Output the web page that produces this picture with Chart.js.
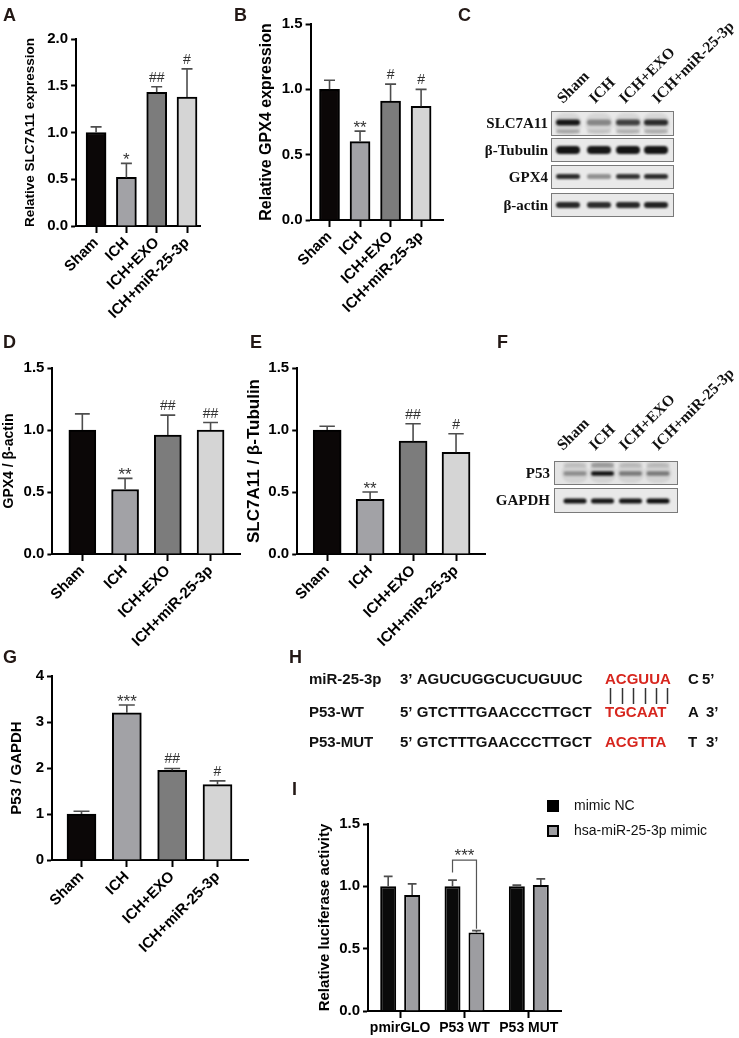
<!DOCTYPE html>
<html lang="en">
<head>
<meta charset="UTF-8">
<title>miR-25-3p / SLC7A11 / GPX4 / P53</title>
<script src="https://cdn.jsdelivr.net/npm/chart.js"></script>
<style>
  html, body { margin: 0; padding: 0; background: #fff; }
  #fig { position: relative; width: 739px; height: 1038px; overflow: hidden; font-family: "Liberation Sans", Arial, sans-serif; }
  #fig canvas { position: absolute; }
  .tag { position: absolute; font-weight: bold; font-size: 18px; line-height: 18px; color: #231815; }
</style>
</head>
<body>
<div id="fig">
  <canvas id="sketch" width="739" height="1038" style="left:0;top:0"></canvas>
  <canvas id="chartA"></canvas>
  <canvas id="chartB"></canvas>
  <canvas id="chartD"></canvas>
  <canvas id="chartE"></canvas>
  <canvas id="chartG"></canvas>
  <canvas id="chartI"></canvas>
  <div class="tag" style="left:3px;top:6px">A</div>
  <div class="tag" style="left:234px;top:6px">B</div>
  <div class="tag" style="left:458px;top:6px">C</div>
  <div class="tag" style="left:3px;top:333px">D</div>
  <div class="tag" style="left:250px;top:333px">E</div>
  <div class="tag" style="left:497px;top:333px">F</div>
  <div class="tag" style="left:3px;top:648px">G</div>
  <div class="tag" style="left:289px;top:648px">H</div>
  <div class="tag" style="left:292px;top:780px">I</div>
</div>
<script>
// ---- data ----
const groups = ['Sham', 'ICH', 'ICH+EXO', 'ICH+miR-25-3p'];

const slcMrna = [1.00, 0.52, 1.43, 1.38];
const slcMrnaErr = [0.06, 0.15, 0.06, 0.30];
const slcMrnaSig = ['', '*', '##', '#'];

const gpxMrna = [1.00, 0.60, 0.91, 0.87];
const gpxMrnaErr = [0.07, 0.08, 0.13, 0.13];
const gpxMrnaSig = ['', '**', '#', '#'];

const gpxProt = [1.00, 0.52, 0.96, 1.00];
const gpxProtErr = [0.13, 0.09, 0.16, 0.06];
const gpxProtSig = ['', '**', '##', '##'];

const slcProt = [1.00, 0.44, 0.91, 0.82];
const slcProtErr = [0.03, 0.06, 0.14, 0.15];
const slcProtSig = ['', '**', '##', '#'];

const p53Prot = [1.00, 3.20, 1.95, 1.64];
const p53ProtErr = [0.06, 0.17, 0.04, 0.08];
const p53ProtSig = ['', '***', '##', '#'];

const lucGroups = ['pmirGLO', 'P53 WT', 'P53 MUT'];
const lucSeries = ['mimic NC', 'hsa-miR-25-3p mimic'];
const lucNC = [1.00, 1.00, 1.00];
const lucNCErr = [0.08, 0.05, 0.01];
const lucMimic = [0.93, 0.63, 1.01];
const lucMimicErr = [0.09, 0.015, 0.05];

// blot band darkness per lane
const slc7a11Band = [0.95, 0.4, 0.75, 0.85];
const tubulinBand = [0.97, 0.95, 0.97, 0.97];
const gpx4Band = [0.85, 0.4, 0.82, 0.85];
const actinBand = [0.88, 0.85, 0.88, 0.9];
const p53Band = [0.35, 0.97, 0.45, 0.45];
const gapdhBand = [0.95, 0.95, 0.95, 0.98];

// luciferase sequences
const seqNames = ['miR-25-3p', 'P53-WT', 'P53-MUT'];
const seqLeft = ['3\u2019 AGUCUGGCUCUGUUC', '5\u2019 GTCTTTGAACCCTTGCT', '5\u2019 GTCTTTGAACCCTTGCT'];
const seqSite = ['ACGUUA', 'TGCAAT', 'ACGTTA'];
const seqEndBase = ['C', 'A', 'T'];
const seqEndTag = ['5\u2019', '3\u2019', '3\u2019'];

// ---- styles ----
const FONT = '"Liberation Sans", Arial, sans-serif';
const SERIF = '"Liberation Serif", "Times New Roman", serif';
const barFills = ['#0b0707', '#a2a2a6', '#7c7c7c', '#d5d5d5'];
Chart.defaults.font.family = FONT;
Chart.defaults.color = '#000';

const errorBars = {
  id: 'errorBars',
  afterDatasetsDraw(chart) {
    const { ctx } = chart;
    const y = chart.scales.y;
    chart.data.datasets.forEach((ds, di) => {
      if (!ds.errors) return;
      const meta = chart.getDatasetMeta(di);
      meta.data.forEach((bar, i) => {
        const raw = ds.data[i];
        const v = typeof raw === 'object' ? raw.y : raw;
        const top = y.getPixelForValue(v + ds.errors[i]);
        const cw = bar.width * 0.55;
        ctx.save();
        ctx.strokeStyle = '#4d4d4d';
        ctx.lineWidth = 1.6;
        ctx.beginPath();
        ctx.moveTo(bar.x, bar.y);
        ctx.lineTo(bar.x, top);
        ctx.moveTo(bar.x - cw / 2, top);
        ctx.lineTo(bar.x + cw / 2, top);
        ctx.stroke();
        const s = ds.sig ? ds.sig[i] : '';
        if (s) {
          ctx.fillStyle = '#333';
          ctx.textAlign = 'center';
          ctx.textBaseline = 'alphabetic';
          if (s[0] === '*') {
            ctx.font = '17px ' + FONT;
            ctx.fillText(s, bar.x, top + 2);
          } else {
            ctx.font = '14px ' + FONT;
            ctx.fillText(s, bar.x, top - 5);
          }
        }
        ctx.restore();
      });
    });
  }
};

function axisStyle() {
  return { color: '#000', width: 2 };
}

// geometry: titleX = y-title centre, left/right/top/bottom = plot area, c0/c3 = first/last bar centre
function groupChart(id, geo, values, errors, sig, yTitle, yMax, yStep, digits) {
  const canvas = document.getElementById(id);
  const padTop = 14;
  const cl = Math.max(0, geo.titleX - geo.ts * 0.6);
  const ct = geo.top - padTop;
  canvas.width = geo.right + 4 - cl;
  canvas.height = geo.bottom - ct + geo.xh;
  canvas.style.left = cl + 'px';
  canvas.style.top = ct + 'px';
  const yW = geo.left - cl;
  const step = (geo.c3 - geo.c0) / 3;
  const xmin = -(geo.c0 - geo.left) / step;
  const xmax = xmin + (geo.right - geo.left) / step;
  new Chart(canvas, {
    type: 'bar',
    data: {
      datasets: [{
        data: values.map((v, i) => ({ x: i, y: v })),
        errors: errors,
        sig: sig,
        backgroundColor: barFills,
        borderColor: '#000',
        borderWidth: 2,
        borderSkipped: 'start',
        barThickness: geo.bw
      }]
    },
    options: {
      responsive: false,
      animation: false,
      layout: { padding: { top: padTop, right: 4, left: 0, bottom: 0 } },
      plugins: { legend: { display: false }, tooltip: { enabled: false } },
      scales: {
        x: {
          type: 'linear', min: xmin, max: xmax, offset: false,
          afterFit: sc => { sc.height = geo.xh; },
          border: axisStyle(),
          grid: { offset: false, drawOnChartArea: false, tickLength: 7, tickColor: '#000', tickWidth: 2 },
          ticks: {
            stepSize: 1, includeBounds: false, autoSkip: false,
            minRotation: 45, maxRotation: 45, padding: 1,
            color: '#000', font: { size: 15, weight: 'bold' },
            callback: v => groups[v] ?? ''
          }
        },
        y: {
          min: 0, max: yMax,
          afterFit: sc => { sc.width = yW; },
          border: axisStyle(),
          grid: { drawOnChartArea: false, tickLength: 5, tickColor: '#000', tickWidth: 2 },
          ticks: { stepSize: yStep, padding: 3, color: '#000', font: { size: 15, weight: 'bold' },
                   callback: v => v.toFixed(digits) },
          title: { display: true, text: yTitle, padding: 0, color: '#000', font: { size: geo.ts, weight: 'bold' } }
        }
      }
    },
    plugins: [errorBars]
  });
}

groupChart('chartA', { titleX: 30, ts: 13.5, left: 76, right: 200, top: 39, bottom: 226, c0: 96, c3: 187, bw: 20, xh: 110 },
  slcMrna, slcMrnaErr, slcMrnaSig, 'Relative SLC7A11 expression', 2, 0.5, 1);
groupChart('chartB', { titleX: 267, ts: 16, left: 311, right: 444, top: 24, bottom: 220, c0: 330, c3: 422, bw: 20, xh: 110 },
  gpxMrna, gpxMrnaErr, gpxMrnaSig, 'Relative GPX4 expression', 1.5, 0.5, 1);
groupChart('chartD', { titleX: 9, ts: 14, left: 52, right: 240, top: 368, bottom: 554, c0: 82, c3: 210.5, bw: 27, xh: 100 },
  gpxProt, gpxProtErr, gpxProtSig, 'GPX4 / \u03b2-actin', 1.5, 0.5, 1);
groupChart('chartE', { titleX: 254, ts: 17, left: 297, right: 485, top: 368, bottom: 554, c0: 327, c3: 456, bw: 28, xh: 100 },
  slcProt, slcProtErr, slcProtSig, 'SLC7A11 / \u03b2-Tubulin', 1.5, 0.5, 1);
groupChart('chartG', { titleX: 17, ts: 15, left: 52, right: 248, top: 676, bottom: 860, c0: 81.5, c3: 217.5, bw: 29, xh: 110 },
  p53Prot, p53ProtErr, p53ProtSig, 'P53 / GAPDH', 4, 1, 0);

// ---- panel I: luciferase ----
const bracket = {
  id: 'bracket',
  afterDatasetsDraw(chart, args, o) {
    const { ctx } = chart;
    const y = chart.scales.y;
    const a = chart.getDatasetMeta(0).data[o.index];
    const b = chart.getDatasetMeta(1).data[o.index];
    const yt = y.getPixelForValue(o.top);
    ctx.save();
    ctx.strokeStyle = '#555';
    ctx.lineWidth = 1.2;
    ctx.beginPath();
    ctx.moveTo(a.x, y.getPixelForValue(o.leftEnd));
    ctx.lineTo(a.x, yt);
    ctx.lineTo(b.x, yt);
    ctx.lineTo(b.x, y.getPixelForValue(o.rightEnd));
    ctx.stroke();
    ctx.fillStyle = '#333';
    ctx.font = '17px ' + FONT;
    ctx.textAlign = 'center';
    ctx.fillText(o.text, (a.x + b.x) / 2, yt + 1);
    ctx.restore();
  }
};

(function () {
  const canvas = document.getElementById('chartI');
  const geo = { titleX: 325, left: 368, right: 561, top: 824, bottom: 1011, xh: 30 };
  const padTop = 12;
  const cl = geo.titleX - 9, ct = geo.top - padTop;
  canvas.width = geo.right + 4 - cl;
  canvas.height = geo.bottom - ct + geo.xh;
  canvas.style.left = cl + 'px';
  canvas.style.top = ct + 'px';
  new Chart(canvas, {
    type: 'bar',
    data: {
      labels: lucGroups,
      datasets: [
        { label: lucSeries[0], data: lucNC, errors: lucNCErr, backgroundColor: '#0a0a0a', borderColor: '#000', borderWidth: 2, borderSkipped: 'start' },
        { label: lucSeries[1], data: lucMimic, errors: lucMimicErr, backgroundColor: '#9d9da1', borderColor: '#000', borderWidth: 2, borderSkipped: 'start' }
      ]
    },
    options: {
      responsive: false,
      animation: false,
      categoryPercentage: 0.745,
      barPercentage: 0.667,
      layout: { padding: { top: padTop, right: 4, left: 0, bottom: 0 } },
      plugins: {
        legend: { display: false }, tooltip: { enabled: false },
        bracket: { index: 1, top: 1.21, leftEnd: 1.11, rightEnd: 0.66, text: '***' }
      },
      scales: {
        x: {
          afterFit: sc => { sc.height = geo.xh; },
          border: axisStyle(),
          grid: { offset: false, drawOnChartArea: false, tickLength: 7, tickColor: '#000', tickWidth: 2 },
          ticks: { maxRotation: 0, padding: 2, color: '#000', font: { size: 14, weight: 'bold' } }
        },
        y: {
          min: 0, max: 1.5,
          afterFit: sc => { sc.width = geo.left - cl; },
          border: axisStyle(),
          grid: { drawOnChartArea: false, tickLength: 5, tickColor: '#000', tickWidth: 2 },
          ticks: { stepSize: 0.5, padding: 3, color: '#000', font: { size: 15, weight: 'bold' }, callback: v => v.toFixed(1) },
          title: { display: true, text: 'Relative luciferase activity', padding: 0, color: '#000', font: { size: 15, weight: 'bold' } }
        }
      }
    },
    plugins: [errorBars, bracket]
  });
})();

// ---- blots, sequences, legend ----
const sk = document.getElementById('sketch').getContext('2d');

function band(ctx, cx, cy, w, h, a) {
  const r = h / 2, x0 = cx - w / 2, x1 = cx + w / 2;
  ctx.save();
  ctx.filter = 'blur(1.2px)';
  ctx.fillStyle = 'rgba(12,12,12,' + a + ')';
  ctx.beginPath();
  ctx.moveTo(x0 + r, cy - r);
  ctx.lineTo(x1 - r, cy - r);
  ctx.arc(x1 - r, cy, r, -Math.PI / 2, Math.PI / 2);
  ctx.lineTo(x0 + r, cy + r);
  ctx.arc(x0 + r, cy, r, Math.PI / 2, Math.PI * 1.5);
  ctx.fill();
  ctx.restore();
}

function blot(ctx, x0, x1, lanes, bw, rows, labelX) {
  rows.forEach(row => {
    ctx.save();
    ctx.fillStyle = row.bg || '#e9e9e9';
    ctx.fillRect(x0, row.y0, x1 - x0, row.y1 - row.y0);
    ctx.beginPath();
    ctx.rect(x0, row.y0, x1 - x0, row.y1 - row.y0);
    ctx.clip();
    if (row.haze) {
      lanes.forEach(cx => band(ctx, cx, (row.y0 + row.y1) / 2, bw + 4, row.y1 - row.y0 - 4, row.haze));
    }
    row.bands.forEach(b => {
      lanes.forEach((cx, i) => band(ctx, cx, b.y, bw, b.h, b.a[i]));
    });
    ctx.restore();
    ctx.save();
    ctx.strokeStyle = '#7a7a7a';
    ctx.lineWidth = 1;
    ctx.strokeRect(x0 + 0.5, row.y0 + 0.5, x1 - x0 - 1, row.y1 - row.y0 - 1);
    ctx.fillStyle = '#111';
    ctx.font = 'bold 15px ' + SERIF;
    ctx.textAlign = 'right';
    ctx.textBaseline = 'middle';
    ctx.fillText(row.label, labelX, (row.y0 + row.y1) / 2 + 1);
    ctx.restore();
  });
}

function laneLabels(ctx, xs, y) {
  ctx.save();
  ctx.fillStyle = '#111';
  ctx.font = 'bold 15.5px ' + SERIF;
  ctx.textAlign = 'left';
  ctx.textBaseline = 'alphabetic';
  groups.forEach((g, i) => {
    ctx.save();
    ctx.translate(xs[i] + 3, y - 2);
    ctx.rotate(-Math.PI / 4);
    ctx.fillText(g, 0, 0);
    ctx.restore();
  });
  ctx.restore();
}

// panel C
laneLabels(sk, [560, 592, 622, 655], 106);
blot(sk, 551, 674, [568, 599, 628, 656], 24, [
  { label: 'SLC7A11', y0: 111, y1: 136, haze: 0.08,
    bands: [{ y: 122.5, h: 6, a: slc7a11Band }, { y: 131.5, h: 4, a: slc7a11Band.map(v => v * 0.25) }] },
  { label: '\u03b2-Tubulin', y0: 138, y1: 162, bands: [{ y: 150, h: 8, a: tubulinBand }] },
  { label: 'GPX4', y0: 165, y1: 189, bands: [{ y: 176.5, h: 5, a: gpx4Band }] },
  { label: '\u03b2-actin', y0: 193, y1: 217, bands: [{ y: 205, h: 6, a: actinBand }] }
], 548);

// panel F
laneLabels(sk, [560, 592, 622, 655], 453);
blot(sk, 554, 678, [575, 602.5, 630.5, 658], 23, [
  { label: 'P53', y0: 461, y1: 485, bg: '#e4e4e4', haze: 0.08,
    bands: [{ y: 465, h: 5, a: p53Band.map(v => v * 0.3) }, { y: 473.5, h: 4.5, a: p53Band }] },
  { label: 'GAPDH', y0: 488, y1: 513, bands: [{ y: 501, h: 5, a: gapdhBand }] }
], 550);

// panel H
(function () {
  const rowsY = [680, 713, 743];
  sk.save();
  sk.textBaseline = 'middle';
  sk.textAlign = 'left';
  sk.font = 'bold 15px ' + FONT;
  seqNames.forEach((name, i) => {
    const y = rowsY[i];
    sk.fillStyle = '#111';
    sk.fillText(name, 309, y);
    sk.fillText(seqLeft[i], 400, y);
    sk.fillText(seqEndBase[i], 688, y);
    sk.fillText(seqEndTag[i], i === 0 ? 702 : 706, y);
    sk.fillStyle = '#d7261e';
    sk.fillText(seqSite[i], 605, y);
  });
  // pairing lines under the miRNA seed
  sk.strokeStyle = '#333';
  sk.lineWidth = 1.5;
  let x = 605;
  for (const ch of seqSite[0]) {
    const w = sk.measureText(ch).width;
    const cx = Math.round(x + w / 2) + 0.5;
    sk.beginPath();
    sk.moveTo(cx, 688);
    sk.lineTo(cx, 704);
    sk.stroke();
    x += w * 1.03;
  }
  sk.restore();
})();

// panel I legend
(function () {
  sk.save();
  sk.fillStyle = '#000';
  sk.fillRect(547, 800, 12, 12);
  sk.fillStyle = '#9d9da1';
  sk.fillRect(547, 825, 12, 12);
  sk.strokeStyle = '#000';
  sk.lineWidth = 2;
  sk.strokeRect(548, 826, 10, 10);
  sk.fillStyle = '#111';
  sk.font = '14px ' + FONT;
  sk.textAlign = 'left';
  sk.textBaseline = 'middle';
  sk.fillText(lucSeries[0], 574, 806);
  sk.fillText(lucSeries[1], 574, 831);
  sk.restore();
})();
</script>
</body>
</html>
